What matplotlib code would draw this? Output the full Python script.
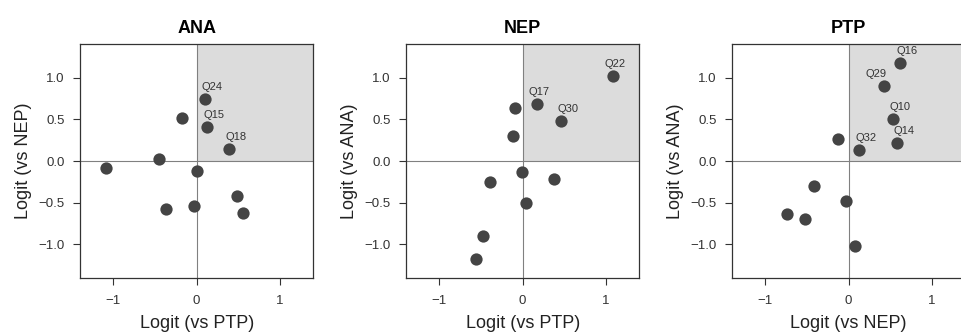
import matplotlib.pyplot as plt

# ANA panel: logit vs PTP (x) and vs NEP (y)
ana_x = [0.10, -0.17, 0.12, 0.39, -0.45, -1.09, 0.01, 0.48, 0.56, -0.37, -0.03]
ana_y = [0.74, 0.52, 0.41, 0.14, 0.02, -0.08, -0.12, -0.42, -0.62, -0.58, -0.54]
ana_lab = ["Q24", "", "Q15", "Q18", "", "", "", "", "", "", ""]

# NEP panel: logit vs PTP (x) and vs ANA (y)
nep_x = [1.09, 0.17, -0.09, 0.46, -0.12, -0.01, -0.39, 0.38, 0.04, -0.48, -0.56]
nep_y = [1.02, 0.69, 0.64, 0.48, 0.30, -0.13, -0.25, -0.22, -0.50, -0.90, -1.18]
nep_lab = ["Q22", "Q17", "", "Q30", "", "", "", "", "", "", ""]

# PTP panel: logit vs NEP (x) and vs ANA (y)
ptp_x = [0.62, 0.42, 0.53, 0.58, -0.13, 0.12, -0.42, -0.03, -0.74, -0.52, 0.08]
ptp_y = [1.18, 0.90, 0.50, 0.22, 0.26, 0.13, -0.30, -0.48, -0.64, -0.70, -1.02]
ptp_lab = ["Q16", "Q29", "Q10", "Q14", "", "Q32", "", "", "", "", ""]

titles = ["ANA", "NEP", "PTP"]
xlabels = ["Logit (vs PTP)", "Logit (vs PTP)", "Logit (vs NEP)"]
ylabels = ["Logit (vs NEP)", "Logit (vs ANA)", "Logit (vs ANA)"]

# label nudges in pixels (dx, dy) where the default one does not fit
nudge = {"Q22": (2, 12), "Q17": (2, 12), "Q29": (-8, 12)}

plt.rcParams['font.family'] = ['Liberation Sans', 'DejaVu Sans']

fig = plt.figure(figsize=(9.61, 3.33), dpi=100)
lefts = [80 / 961, 406 / 961, 732 / 961]
panels = [(ana_x, ana_y, ana_lab), (nep_x, nep_y, nep_lab), (ptp_x, ptp_y, ptp_lab)]

for i, (xs, ys, labs) in enumerate(panels):
    ax = fig.add_axes([lefts[i], 0.166, 233.3 / 961, 0.7007])
    ax.set_xlim(-1.4, 1.4)
    ax.set_ylim(-1.4, 1.4)
    ax.fill_between([0, 1.4], 0, 1.4, color="#dcdcdc", lw=0, zorder=0)
    ax.axhline(0, color="#808080", lw=0.8, zorder=1)
    ax.axvline(0, color="#808080", lw=0.8, zorder=1)
    ax.scatter(xs, ys, s=78, color="#444444", zorder=3, linewidths=0)
    for x, y, lab in zip(xs, ys, labs):
        if lab:
            dx, dy = nudge.get(lab, (7, 12))
            ax.annotate(lab, (x, y), xytext=(dx * 0.72, dy * 0.72), textcoords="offset points",
                        ha="center", va="center", fontsize=8, color="#333333")
    ax.set_xticks([-1, 0, 1])
    ax.set_yticks([-1, -0.5, 0, 0.5, 1])
    ax.set_yticklabels(["\u22121.0", "\u22120.5", "0.0", "0.5", "1.0"])
    ax.tick_params(direction="out", length=5, width=0.8, color="#333333",
                   labelsize=9.5, labelcolor="#333333")
    ax.tick_params(axis="x", pad=7.5)
    ax.tick_params(axis="y", pad=6)
    for sp in ax.spines.values():
        sp.set_color("#333333")
        sp.set_linewidth(0.9)
    ax.set_title(titles[i], fontsize=13, fontweight="bold", pad=8)
    ax.set_xlabel(xlabels[i], fontsize=13, labelpad=5.5, color="#222222")
    ax.set_ylabel(ylabels[i], fontsize=13, labelpad=5, color="#222222")

plt.savefig("out.png", dpi=100)
